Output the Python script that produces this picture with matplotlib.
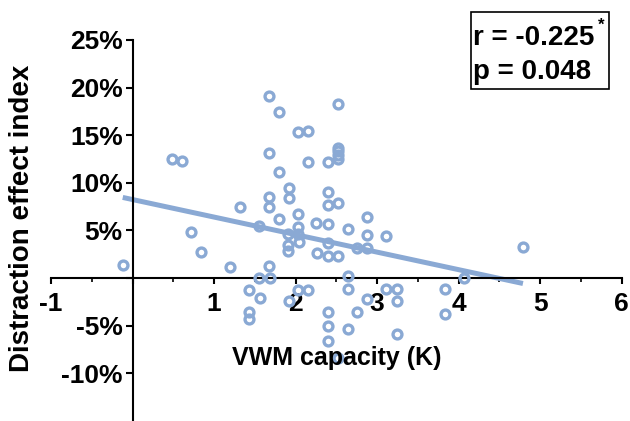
import matplotlib.pyplot as plt
from matplotlib.patches import Rectangle
from matplotlib.ticker import MultipleLocator

plt.rcParams['font.family'] = ['Liberation Sans', 'DejaVu Sans']
plt.rcParams['font.weight'] = 'bold'

# VWM capacity (K) and distraction effect index (%)
vwm_k = [-0.12, 0.49, 0.61, 0.72, 0.84, 1.20, 1.32, 1.43, 1.43, 1.43,
         1.55, 1.55, 1.56, 1.68, 1.68, 1.68, 1.68, 1.68, 1.69, 1.80,
         1.80, 1.80, 1.92, 1.92, 1.91, 1.91, 1.91, 1.92, 2.03, 2.03,
         2.03, 2.03, 2.04, 2.03, 2.15, 2.15, 2.15, 2.25, 2.26, 2.40,
         2.40, 2.40, 2.40, 2.40, 2.40, 2.40, 2.40, 2.40, 2.52, 2.52,
         2.52, 2.52, 2.52, 2.52, 2.52, 2.52, 2.64, 2.64, 2.64, 2.64,
         2.76, 2.76, 2.88, 2.88, 2.88, 2.88, 3.11, 3.11, 3.25, 3.25,
         3.25, 3.83, 3.83, 4.07, 4.79]
distraction = [1.4, 12.5, 12.3, 4.8, 2.7, 1.2, 7.5, -1.2, -3.6, -4.3,
               5.5, 0.0, -2.1, 19.1, 13.1, 8.5, 7.5, 1.3, 0.0, 17.4,
               11.1, 6.2, 9.5, 8.4, 4.6, 3.5, 2.8, -2.4, 15.3, 6.7,
               5.4, 4.6, 3.8, -1.2, 15.4, 12.2, -1.2, 5.8, 2.6, 12.2,
               9.0, 7.7, 5.7, 3.7, 2.3, -3.6, -5.0, -6.6, 18.3, 13.7,
               13.3, 12.9, 12.5, 7.9, 2.3, -8.4, 5.2, 0.2, -1.1, -5.3,
               3.2, -3.6, 6.4, 4.5, 3.2, -2.2, 4.4, -1.1, -1.1, -2.4,
               -5.9, -1.1, -3.8, 0.0, 3.3]

# regression line
fit_slope = -1.84
fit_intercept = 8.25
r_text = 'r = -0.225'
p_text = 'p = 0.048'

blue = '#8AA9D4'

fig = plt.figure(figsize=(6.3, 4.21), dpi=100)
ax = fig.add_axes([0.081, 0.0, 0.9056, 0.905])

x0, x1 = min(vwm_k), max(vwm_k)
ax.plot([x0, x1], [fit_intercept + fit_slope * x0, fit_intercept + fit_slope * x1],
        color=blue, lw=3.6, solid_capstyle='butt', zorder=2)
ax.plot(vwm_k, distraction, 'o', ms=6.4, mew=2.4, mfc='none', mec=blue, zorder=3)

ax.set_xlim(-1, 6)
ax.set_ylim(-15, 25)
for side in ['top', 'right']:
    ax.spines[side].set_visible(False)
ax.spines['left'].set_position(('data', 0))
ax.spines['bottom'].set_position(('data', 0))
for side in ['left', 'bottom']:
    ax.spines[side].set_linewidth(1.5)

ax.set_xticks([-1, 0, 1, 2, 3, 4, 5, 6])
ax.set_xticklabels(['-1', '', '1', '2', '3', '4', '5', '6'])
ax.xaxis.set_minor_locator(MultipleLocator(0.5))
ax.set_yticks([-10, -5, 0, 5, 10, 15, 20, 25])
ax.set_yticklabels(['-10%', '-5%', '', '5%', '10%', '15%', '20%', '25%'])
ax.tick_params(axis='x', which='major', length=4, width=1.5, pad=6, labelsize=19)
ax.tick_params(axis='x', which='minor', length=3, width=1.2)
ax.tick_params(axis='y', length=5, width=1.5, pad=2, labelsize=19)
for lab in ax.get_xticklabels() + ax.get_yticklabels():
    lab.set_fontweight('bold')

ax.text(2.51, -8.4, 'VWM capacity (K)', ha='center', va='center',
        fontsize=18, fontweight='bold')
fig.text(22 / 630, 1 - 218 / 421, 'Distraction effect index', rotation=90,
         ha='center', va='center', fontsize=20, fontweight='bold')

# stats box
fig.add_artist(Rectangle((0.7476, 0.7879), 0.2184, 0.1843, transform=fig.transFigure,
                         fill=False, edgecolor='black', lw=1.2))
fig.text(0.751, 0.9097, r_text, ha='left', va='center', fontsize=20, fontweight='bold')
fig.text(0.751, 0.829, p_text, ha='left', va='center', fontsize=20, fontweight='bold')
fig.text(0.954, 0.94, '*', ha='center', va='center', fontsize=12, fontweight='bold')

fig.savefig('out.png', dpi=100)
